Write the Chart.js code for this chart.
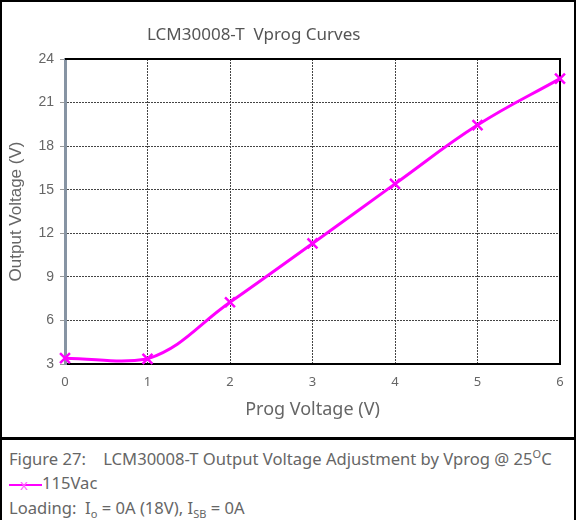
<!DOCTYPE html>
<html>
<head>
<meta charset="utf-8">
<script src="https://cdn.jsdelivr.net/npm/chart.js@4"></script>
<style>
  html, body { margin: 0; padding: 0; background: #fff; }
  #marco { width: 576px; height: 520px; box-sizing: border-box; border: 2px solid #000; border-bottom: none; font-family: "Noto Sans", sans-serif; }
  #grafica { position: relative; width: 572px; height: 435px; border-bottom: 3px solid #000; }
  #titulo { position: absolute; left: 145px; top: 22px; font-size: 17px; line-height: 20px; color: #555; white-space: pre; }
  #pie { padding-left: 7px; color: #666; font-size: 16.6px; line-height: 24.5px; padding-top: 2px; }
  #pie sup, #pie sub { font-size: 11px; }
  .muestra { display: inline-block; position: relative; width: 33px; height: 12px; vertical-align: middle; }
  .muestra i { position: absolute; left: 0; right: 0; top: 5px; height: 2px; background: #ff00ff; }
  .muestra b { position: absolute; left: 11px; top: -7px; color: #ff66ff; font-weight: normal; font-size: 15px; }
</style>
</head>
<body>
<div id="marco">
  <div id="grafica"><div id="titulo">LCM30008-T  Vprog Curves</div><canvas id="vprog"></canvas></div>
  <div id="pie">
    <div>Figure 27:&nbsp;&nbsp;&nbsp; LCM30008-T Output Voltage Adjustment by Vprog @ 25<sup>O</sup>C</div>
    <div><span class="muestra"><i></i><b>x</b></span>115Vac</div>
    <div>Loading:&nbsp; I<sub>o</sub> = 0A (18V), I<sub>SB</sub> = 0A</div>
  </div>
</div>
<script>
const grafica = document.getElementById("vprog");
const voltajeProg = [0, 1, 2, 3, 4, 5, 6];
const voltajeSalida = [3.4, 3.35, 7.25, 11.3, 15.4, 19.45, 22.65];
const ticksX = [0, 1, 2, 3, 4, 5, 6];
const ticksY = [3, 6, 9, 12, 15, 18, 21, 24];
const gris = "#666";

// marco negro arriba y a la derecha del area de trazado
const marco = {
  id: "marco",
  beforeDatasetsDraw(chart) {
    const a = chart.chartArea;
    const ctx = chart.ctx;
    ctx.save();
    ctx.strokeStyle = "#000";
    ctx.lineWidth = 2;
    ctx.beginPath();
    ctx.moveTo(a.left, a.top);
    ctx.lineTo(a.right, a.top);
    ctx.lineTo(a.right, a.bottom);
    ctx.stroke();
    ctx.restore();
  }
};

new Chart(grafica, {
  type: 'line',
  data: {
    datasets: [{
      label: '115Vac',
      data: voltajeProg.map((x, i) => ({ x: x, y: voltajeSalida[i] })),
      borderColor: "#ff00ff",
      backgroundColor: "#ff00ff",
      borderWidth: 3,
      tension: 0.4,
      pointStyle: 'crossRot',
      pointRadius: 7,
      pointBorderWidth: 2.5,
      clip: false
    }]
  },
  options: {
    responsive: true,
    maintainAspectRatio: false,
    animation: false,
    layout: { padding: { left: 0, right: 14, top: 57, bottom: 0 } },
    scales: {
      x: {
        type: 'linear',
        min: 0,
        max: 6,
        afterBuildTicks: (s) => { s.ticks = ticksX.map(v => ({ value: v })); },
        afterFit: (s) => { s.height = 73; },
        ticks: { color: gris, font: { family: "Noto Sans", size: 13 }, padding: 10 },
        grid: { color: "#444", lineWidth: 1, drawTicks: false },
        border: { color: "#000", width: 2, dash: [2, 1] },
        title: { display: true, text: 'Prog Voltage (V)', color: gris, font: { family: "Noto Sans", size: 18 }, padding: { top: 0, bottom: 16 } }
      },
      y: {
        min: 3,
        max: 24,
        afterBuildTicks: (s) => { s.ticks = ticksY.map(v => ({ value: v })); },
        afterFit: (s) => { s.width = 63; },
        ticks: { color: gris, font: { family: "Liberation Sans", size: 14 }, padding: 6 },
        grid: { color: "#444", lineWidth: 1, tickLength: 5, tickColor: "#999", tickBorderDash: [] },
        border: { color: "#8794a3", width: 3, dash: [2, 1] },
        title: { display: true, text: 'Output Voltage (V)', color: gris, font: { family: "Liberation Sans", size: 17 }, padding: { top: 4, bottom: 0 } }
      }
    },
    plugins: {
      legend: { display: false },
      tooltip: { enabled: false },
      title: { display: false }
    }
  },
  plugins: [marco]
});
</script>
</body>
</html>
